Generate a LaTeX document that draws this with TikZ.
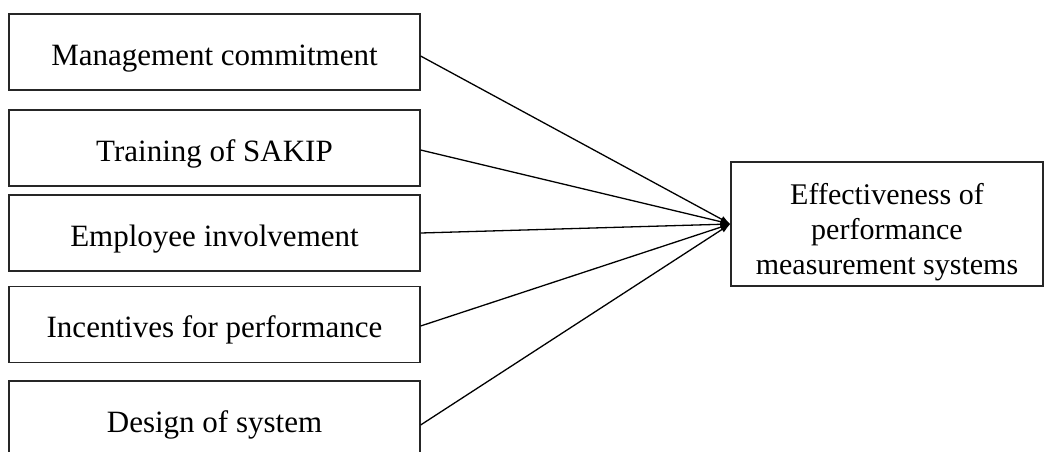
\documentclass[tikz,border=0pt]{standalone}
\usepackage{fontspec}
\setmainfont{Liberation Serif}
\usetikzlibrary{arrows.meta}
\begin{document}
\begin{tikzpicture}[x=1pt,y={(0pt,-1pt)},
  factor/.style={draw=black!85, line width=1.2pt, minimum width=411pt, minimum height=76pt, inner sep=0pt, text height=26pt, text depth=0pt, font=\fontsize{31}{35}\selectfont},
  outcome/.style={draw=black!85, line width=1.2pt, minimum width=312pt, minimum height=124pt, inner sep=0pt, font=\fontsize{30}{35}\selectfont},
  link/.style={line width=1.3pt, -{Latex[length=10pt,width=7pt]}}]
\useasboundingbox (0,0) rectangle (1044,451);
\node[factor] (m) at (214.5,52) {Management commitment};
\node[factor] (t) at (214.5,148) {Training of SAKIP};
\node[factor] (e) at (214.5,233) {Employee involvement};
\node[factor] (i) at (214.5,324.5) {Incentives for performance};
\node[factor] (d) at (214.5,419) {Design of system};
\node[outcome] (out) at (887,224) {\raisebox{-15pt}[0pt][0pt]{\begin{tabular}{@{}c@{}}Effectiveness of\\performance\\measurement systems\end{tabular}}};
\coordinate (hub) at (out.west);
\draw[link] ([yshift=-4pt]m.east) -- (hub);
\draw[link] ([yshift=-2pt]t.east) -- (hub);
\draw[link] (e.east) -- (hub);
\draw[link] ([yshift=-1.5pt]i.east) -- (hub);
\draw[link] ([yshift=-6pt]d.east) -- (hub);
\end{tikzpicture}
\end{document}
